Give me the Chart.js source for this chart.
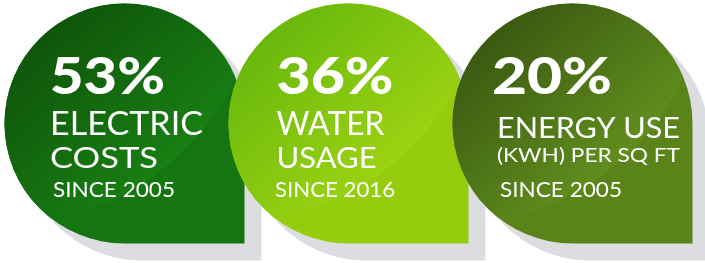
<!DOCTYPE html>
<html>
<head>
<meta charset="utf-8">
<script src="https://cdn.jsdelivr.net/npm/chart.js@4.4.1/dist/chart.umd.min.js"></script>
<style>
  html, body { margin:0; padding:0; background:#fff; }
  #wrap { width:705px; height:263px; }
</style>
</head>
<body>
<div id="wrap"><canvas id="dropChart" width="705" height="263"></canvas></div>
<script>
// data
const percents = [53, 36, 20];
const titleLines = [['ELECTRIC', 'COSTS'], ['WATER', 'USAGE'], ['ENERGY USE', '(KWH) PER SQ FT']];
const sinceYears = [2005, 2016, 2005];

// look of each drop
const baseColors  = ['#157511', '#95cd0e', '#5a831a'];
const darkColors  = ['#0c4a08', '#5bb10b', '#2f4c0e'];
const lightColors = ['#1a8414', '#a3d613', '#66951f'];
const shadowColor = '#dcdde0';

// text layout, px relative to drop centre (r = 120): [dx, baseline dy, capHeight, width]
const textLayout = [
  [[-74.5,-29.5,37,115], [-74.5,11.5,23,153], [-74.5,44.5,21,108], [-71.5,73.5,15,122]],
  [[-72,-29.5,37,117], [-72,11.5,23,108], [-72,44.5,21,100], [-73.5,73.5,15,120]],
  [[-80.5,-29.5,37,120], [-75.5,14.5,21,183], [-75.5,38.5,13.5,183], [-72.5,73.5,15,122]]
];

function dropPath(ctx, cx, cy, r) {
  ctx.beginPath();
  ctx.moveTo(cx + r, cy);
  ctx.arc(cx, cy, r, 0, Math.PI / 2, true);
  ctx.lineTo(cx + r, cy + r);
  ctx.closePath();
}

function fitText(ctx, txt, x, y, cap, width, weight) {
  const size = cap / 0.72;
  ctx.font = weight + ' ' + size + 'px Lato, "Open Sans", sans-serif';
  const w = ctx.measureText(txt).width;
  ctx.save();
  ctx.translate(x, y);
  ctx.scale(width / w, 1);
  ctx.fillText(txt, 0, 0);
  ctx.restore();
}

const dropsPlugin = {
  id: 'drops',
  beforeDatasetsDraw(chart) {
    const ctx = chart.ctx;
    const xs = chart.scales.x;
    const unit = xs.getPixelForValue(1) - xs.getPixelForValue(0);
    const r = unit * 0.5357;
    const k = r / 120;
    const meta = chart.getDatasetMeta(0);
    meta.data.forEach((pt, i) => {
      const cx = pt.x, cy = pt.y;
      // shadow
      ctx.save();
      ctx.fillStyle = shadowColor;
      dropPath(ctx, cx + 17 * k, cy + 17 * k, r);
      ctx.fill();
      ctx.restore();
      // body
      ctx.save();
      dropPath(ctx, cx, cy, r);
      ctx.fillStyle = baseColors[i];
      ctx.fill();
      ctx.clip();
      ctx.beginPath();
      ctx.arc(cx - 0.99 * r, cy - 1.29 * r, 2.12 * r, 0, Math.PI * 2);
      const g = ctx.createLinearGradient(cx - r, cy - r, cx + 0.45 * r, cy + 0.55 * r);
      g.addColorStop(0, darkColors[i]);
      g.addColorStop(1, lightColors[i]);
      ctx.fillStyle = g;
      ctx.fill();
      ctx.restore();
      // text
      ctx.save();
      ctx.fillStyle = '#ffffff';
      ctx.textBaseline = 'alphabetic';
      ctx.textAlign = 'left';
      const lay = textLayout[i];
      const lines = [percents[i] + '%', titleLines[i][0], titleLines[i][1], 'SINCE ' + sinceYears[i]];
      lines.forEach((txt, j) => {
        const L = lay[j];
        fitText(ctx, txt, cx + L[0] * k, cy + L[1] * k, L[2] * k, L[3] * k, j === 0 ? '900' : '400');
      });
      ctx.restore();
    });
  }
};

new Chart(document.getElementById('dropChart').getContext('2d'), {
  type: 'scatter',
  data: {
    datasets: [{
      label: 'Reduction',
      data: percents.map((p, i) => ({ x: i, y: 0.5 })),
      pointRadius: 0,
      pointHoverRadius: 0
    }]
  },
  options: {
    responsive: false,
    animation: false,
    layout: { padding: { left: 12.5, right: 20.5, top: 0, bottom: 16 } },
    scales: {
      x: { type: 'linear', min: -0.5, max: 2.5, display: false },
      y: { type: 'linear', min: 0, max: 1, display: false }
    },
    plugins: { legend: { display: false }, tooltip: { enabled: false } }
  },
  plugins: [dropsPlugin]
});
</script>
</body>
</html>
